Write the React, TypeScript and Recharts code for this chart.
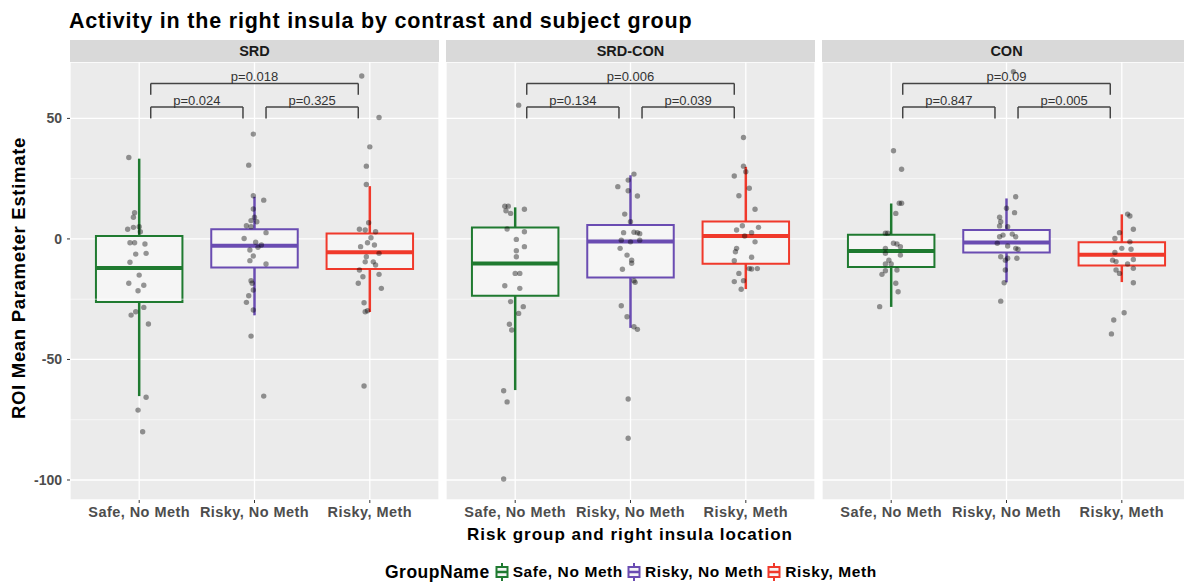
import React from 'react';
import {
  ComposedChart,
  XAxis,
  YAxis,
  CartesianGrid,
  ReferenceArea,
  ReferenceLine,
  ReferenceDot,
  Scatter,
} from 'recharts';

// ---------- data ----------
const panelNames = ['SRD', 'SRD-CON', 'CON'];
const groupNames = ['Safe, No Meth', 'Risky, No Meth', 'Risky, Meth'];
const yTicks = [-100, -50, 0, 50];
const yMinorTicks = [-75, -25, 25];
const yDomain = [-108.3, 73.4];

// box statistics, [panel][group]
const whiskerLow = [[-65.2, -31.7, -30.3], [-62.7, -36.9, -20.8], [-28.2, -18.0, -17.9]];
const q1 = [[-26.2, -11.8, -12.5], [-23.6, -16.0, -10.3], [-11.6, -5.6, -11.0]];
const median = [[-12.1, -2.8, -5.5], [-10.2, -1.1, 1.2], [-5.0, -1.5, -6.6]];
const q3 = [[1.2, 4.0, 2.3], [4.7, 5.8, 7.2], [1.7, 3.7, -1.4]];
const whiskerHigh = [[33.3, 17.5, 21.9], [13.1, 26.4, 29.9], [14.7, 16.8, 10.2]];

// p-values: [1 vs 2, 2 vs 3, 1 vs 3] per panel
const pValues = [
  ['p=0.024', 'p=0.325', 'p=0.018'],
  ['p=0.134', 'p=0.039', 'p=0.006'],
  ['p=0.847', 'p=0.005', 'p=0.09'],
];
const comparisons = [[1, 2, 0], [2, 3, 0], [1, 3, 1]];
const bracketLevels = [54.7, 64.5];
const bracketTip = 4.7;

// jittered points: [horizontal jitter (category units), value]
const srdSafe = [[-0.09, 33.8], [-0.04, 10.9], [-0.05, 9.0], [-0.1, 4.0], [-0.05, 4.8], [0.0, 5.1], [0.01, 3.0], [-0.08, -1.6], [-0.04, -1.6], [0.05, -2.1], [-0.03, -6.3], [0.06, -6.0], [-0.08, -9.7], [0.0, -15.0], [-0.09, -18.4], [0.04, -19.2], [-0.01, -21.5], [0.04, -28.4], [-0.03, -30.2], [-0.07, -31.6], [0.08, -35.3], [0.06, -65.7], [-0.01, -71.0], [0.03, -80.0]];
const srdRiskyNoMeth = [[-0.01, 43.5], [-0.05, 30.6], [-0.01, 17.9], [0.08, 16.1], [-0.01, 12.4], [0.0, 9.0], [-0.03, 7.6], [0.02, 7.1], [-0.07, 5.5], [-0.03, 5.1], [0.1, 2.6], [-0.09, 0.2], [0.01, -1.4], [0.06, -2.5], [-0.04, -4.6], [0.03, -3.5], [-0.01, -7.1], [-0.04, -9.0], [0.1, -10.4], [-0.03, -17.3], [-0.02, -18.4], [-0.01, -21.2], [-0.05, -23.6], [-0.07, -26.3], [-0.01, -29.5], [-0.03, -40.3], [0.08, -65.2]];
const srdRiskyMeth = [[0.0, 38.2], [-0.03, 30.2], [-0.03, 22.6], [-0.01, 6.7], [-0.09, 4.0], [-0.04, 3.7], [0.05, 3.0], [0.01, 0.5], [-0.02, -1.6], [0.04, -2.5], [-0.08, -3.2], [0.08, -6.0], [-0.03, -7.4], [-0.04, -9.5], [0.03, -9.5], [0.05, -10.8], [-0.09, -12.9], [0.08, -14.7], [-0.06, -15.7], [-0.1, -18.4], [0.1, -20.5], [-0.05, -26.5], [-0.04, -30.2], [-0.02, -29.8], [-0.05, -61.0], [-0.07, 67.6], [0.08, 50.4]];
const diffSafe = [[0.03, 55.5], [-0.09, 13.6], [-0.06, 13.6], [-0.08, 11.7], [-0.04, 10.6], [0.08, 12.3], [-0.07, 4.1], [0.08, 3.0], [0.01, -0.2], [0.08, -3.2], [0.01, -4.9], [0.01, -7.4], [0.0, -14.3], [0.04, -14.3], [-0.09, -19.4], [0.04, -20.5], [-0.04, -26.0], [0.07, -28.1], [0.03, -30.9], [-0.05, -35.4], [-0.03, -37.8], [-0.1, -63.0], [-0.07, -67.6], [-0.1, -99.6]];
const diffRiskyNoMeth = [[0.03, 26.9], [-0.11, 21.7], [-0.02, 24.4], [-0.02, 20.0], [0.06, 17.8], [-0.05, 10.3], [0.0, 7.1], [0.03, 2.8], [0.06, 2.6], [0.08, 2.2], [-0.06, 2.6], [-0.08, -0.5], [0.08, -0.5], [0.0, -1.2], [-0.09, -3.9], [-0.03, -6.7], [0.01, -8.8], [0.01, -10.1], [-0.07, -12.6], [0.04, -18.0], [0.03, -17.3], [-0.08, -27.7], [-0.03, -32.3], [0.03, -36.4], [0.06, -37.5], [-0.02, -66.4], [-0.02, -82.7]];
const diffRiskyMeth = [[-0.02, 42.1], [-0.02, 30.2], [-0.1, 26.1], [0.0, 27.9], [0.03, 21.0], [-0.06, 17.9], [0.08, 12.3], [-0.03, 5.5], [-0.08, 3.7], [0.05, 2.6], [0.11, 4.8], [-0.01, 1.2], [0.08, -1.2], [-0.08, -3.9], [-0.09, -5.3], [0.05, -7.6], [-0.1, -9.0], [0.03, -12.3], [0.05, -12.5], [0.1, -12.3], [-0.06, -14.3], [-0.1, -17.7], [-0.02, -17.3], [-0.04, -20.9]];
const conSafe = [[0.02, 36.6], [0.09, 28.9], [0.07, 14.8], [0.09, 14.8], [0.04, 10.6], [-0.05, 2.4], [-0.03, 2.4], [0.02, -1.8], [0.05, -2.1], [0.08, -3.2], [-0.05, -3.9], [-0.05, -6.0], [0.08, -6.7], [-0.02, -8.8], [-0.05, -10.4], [0.0, -10.4], [0.05, -12.9], [-0.05, -13.2], [-0.08, -14.7], [0.04, -18.4], [0.06, -21.9], [-0.1, -28.1]];
const conRiskyNoMeth = [[0.08, 17.5], [-0.06, 9.0], [0.07, 10.9], [0.0, 12.7], [-0.05, 7.1], [0.01, 5.1], [-0.06, 5.4], [0.05, 2.0], [0.08, 0.9], [-0.06, 0.9], [-0.03, 1.6], [-0.08, -1.8], [0.01, -2.9], [0.08, -3.9], [0.1, -4.3], [-0.05, -7.4], [0.01, -8.0], [-0.01, -8.8], [0.09, -8.0], [-0.01, -12.9], [-0.02, -18.2], [-0.05, -25.8], [0.06, 69.4]];
const conRiskyMeth = [[0.05, 10.3], [0.07, 9.5], [0.1, 4.0], [-0.02, 2.6], [-0.06, 0.2], [0.07, -1.2], [0.0, -3.9], [0.08, -4.3], [-0.06, -5.6], [0.1, -8.5], [-0.08, -8.8], [-0.05, -9.4], [0.05, -10.4], [0.1, -12.2], [-0.05, -12.9], [-0.02, -14.3], [0.1, -18.2], [0.02, -30.6], [-0.07, -33.6], [-0.09, -39.4]];

const panelPoints = [
  [srdSafe, srdRiskyNoMeth, srdRiskyMeth],
  [diffSafe, diffRiskyNoMeth, diffRiskyMeth],
  [conSafe, conRiskyNoMeth, conRiskyMeth],
];

// ---------- style ----------
const groupColors = ['#1F7A30', '#6A4CB2', '#F0392B'];
const FONT = '"Liberation Sans", Arial, Helvetica, sans-serif';
const PANEL_BG = '#EBEBEB';
const BOX_FILL = '#F5F5F5';
const BOX_HALF = 0.375;
const PLOT_TOP = 62;
const PLOT_H = 438;
const XAXIS_H = 24;
const PLOT_W = 369;
const panelLefts = [70, 446, 822];

function Dot(props: any) {
  if (props.cx == null || props.cy == null) return null;
  return <circle cx={props.cx} cy={props.cy} r={2.7} fill="#000" fillOpacity={0.4} />;
}

function Panel({ pi }: { pi: number }) {
  const showY = pi === 0;
  const data: { x: number; y: number }[] = [];
  panelPoints[pi].forEach((pts, gi) => {
    pts.forEach(([dx, v]) => data.push({ x: gi + 1 + dx, y: v }));
  });
  const yAxisW = showY ? 70 : 0;
  return (
    <ComposedChart
      width={PLOT_W + yAxisW}
      height={PLOT_H + XAXIS_H}
      margin={{ top: 0, right: 0, bottom: 0, left: 0 }}
      data={data}
    >
      <CartesianGrid fill={PANEL_BG} stroke="#FFFFFF" strokeWidth={1.3} />
      <XAxis
        type="number"
        dataKey="x"
        domain={[0.4, 3.6]}
        ticks={[1, 2, 3]}
        interval={0}
        allowDataOverflow
        height={XAXIS_H}
        tickFormatter={(v: number) => groupNames[Math.round(v) - 1]}
        tick={{ fontSize: 14.5, fontWeight: 700, fill: '#4D4D4D', fontFamily: FONT, letterSpacing: 0.45 }}
        tickLine={{ stroke: '#333333' }}
        tickSize={3}
        tickMargin={4}
        axisLine={false}
      />
      <YAxis
        type="number"
        dataKey="y"
        domain={yDomain}
        ticks={yTicks}
        allowDataOverflow
        hide={!showY}
        width={yAxisW}
        tick={{ fontSize: 14, fontWeight: 700, fill: '#4D4D4D', fontFamily: FONT }}
        tickLine={{ stroke: '#333333' }}
        tickSize={3}
        tickMargin={5}
        axisLine={false}
      />
      {yMinorTicks.map((t) => (
        <ReferenceLine key={'m' + t} y={t} stroke="#FFFFFF" strokeWidth={0.6} />
      ))}
      {groupNames.map((g, gi) => (
        <ReferenceArea
          key={'box' + gi}
          x1={gi + 1 - BOX_HALF}
          x2={gi + 1 + BOX_HALF}
          y1={q1[pi][gi]}
          y2={q3[pi][gi]}
          fill={BOX_FILL}
          fillOpacity={1}
          stroke={groupColors[gi]}
          strokeWidth={2}
          strokeOpacity={1}
        />
      ))}
      {groupNames.map((g, gi) => (
        <ReferenceLine
          key={'wh' + gi}
          segment={[{ x: gi + 1, y: q3[pi][gi] }, { x: gi + 1, y: whiskerHigh[pi][gi] }]}
          stroke={groupColors[gi]}
          strokeWidth={2.5}
        />
      ))}
      {groupNames.map((g, gi) => (
        <ReferenceLine
          key={'wl' + gi}
          segment={[{ x: gi + 1, y: q1[pi][gi] }, { x: gi + 1, y: whiskerLow[pi][gi] }]}
          stroke={groupColors[gi]}
          strokeWidth={2.5}
        />
      ))}
      {groupNames.map((g, gi) => (
        <ReferenceLine
          key={'md' + gi}
          segment={[{ x: gi + 1 - BOX_HALF, y: median[pi][gi] }, { x: gi + 1 + BOX_HALF, y: median[pi][gi] }]}
          stroke={groupColors[gi]}
          strokeWidth={4}
        />
      ))}
      <Scatter dataKey="y" isAnimationActive={false} shape={<Dot />} />
      {comparisons.map(([a, b, lvl], ci) => {
        const xa = a + 0.1;
        const xb = b - 0.1;
        const yl = bracketLevels[lvl];
        return (
          <React.Fragment key={'br' + ci}>
            <ReferenceLine segment={[{ x: xa, y: yl }, { x: xb, y: yl }]} stroke="#444444" strokeWidth={1.5} />
            <ReferenceLine segment={[{ x: xa, y: yl }, { x: xa, y: yl - bracketTip }]} stroke="#444444" strokeWidth={1.5} />
            <ReferenceLine segment={[{ x: xb, y: yl }, { x: xb, y: yl - bracketTip }]} stroke="#444444" strokeWidth={1.5} />
            <ReferenceDot
              x={(xa + xb) / 2}
              y={yl}
              r={0}
              ifOverflow="visible"
              shape={(p: any) => (
                <text
                  x={p.cx}
                  y={p.cy - 2}
                  textAnchor="middle"
                  fontSize={13}
                  fontFamily={FONT}
                  fill="#333333"
                >
                  {pValues[pi][ci]}
                </text>
              )}
            />
          </React.Fragment>
        );
      })}
    </ComposedChart>
  );
}

function LegendKey({ color }: { color: string }) {
  return (
    <svg width={14} height={18} style={{ display: 'block' }}>
      <line x1={7} y1={0} x2={7} y2={4} stroke={color} strokeWidth={2} />
      <line x1={7} y1={14} x2={7} y2={18} stroke={color} strokeWidth={2} />
      <rect x={1.5} y={4} width={11} height={10} fill={BOX_FILL} stroke={color} strokeWidth={2} />
      <line x1={1.5} y1={9} x2={12.5} y2={9} stroke={color} strokeWidth={2.5} />
    </svg>
  );
}

export default function App() {
  return (
    <div
      style={{
        position: 'absolute',
        left: 0,
        top: 0,
        width: 1184,
        height: 582,
        overflow: 'hidden',
        background: '#FFFFFF',
        fontFamily: FONT,
      }}
    >
      {panelNames.map((name, pi) => (
        <div
          key={'strip' + pi}
          style={{
            position: 'absolute',
            left: panelLefts[pi],
            top: 40,
            width: PLOT_W,
            height: 22,
            background: '#D9D9D9',
            color: '#1A1A1A',
            fontWeight: 700,
            fontSize: 14.5,
            lineHeight: '22px',
            textAlign: 'center',
          }}
        >
          {name}
        </div>
      ))}
      {panelNames.map((name, pi) => (
        <div
          key={'panel' + pi}
          style={{ position: 'absolute', left: panelLefts[pi] - (pi === 0 ? 70 : 0), top: PLOT_TOP }}
        >
          <Panel pi={pi} />
        </div>
      ))}
      <svg width={1184} height={582} style={{ position: 'absolute', left: 0, top: 0, pointerEvents: 'none' }}>
        <text x={69} y={28} fontSize={21.5} fontWeight={700} fill="#000" fontFamily={FONT} letterSpacing={0.8}>
          Activity in the right insula by contrast and subject group
        </text>
        <text
          x={25}
          y={278}
          fontSize={18.5}
          fontWeight={700}
          fill="#000"
          fontFamily={FONT}
          letterSpacing={0.7}
          textAnchor="middle"
          transform="rotate(-90, 25, 278)"
        >
          ROI Mean Parameter Estimate
        </text>
        <text
          x={630}
          y={540}
          fontSize={17}
          fontWeight={700}
          fill="#000"
          fontFamily={FONT}
          letterSpacing={1.0}
          textAnchor="middle"
        >
          Risk group and right insula location
        </text>
      </svg>
      <div
        style={{
          position: 'absolute',
          left: 385,
          top: 561,
          height: 22,
          display: 'flex',
          alignItems: 'center',
          fontWeight: 700,
          whiteSpace: 'nowrap',
        }}
      >
        <span style={{ fontSize: 17.5, marginRight: 5, letterSpacing: 0.5 }}>GroupName</span>
        {groupNames.map((g, gi) => (
          <React.Fragment key={'lg' + gi}>
            <LegendKey color={groupColors[gi]} />
            <span style={{ fontSize: 15.5, marginLeft: 4, marginRight: 4, letterSpacing: 0.6 }}>{g}</span>
          </React.Fragment>
        ))}
      </div>
    </div>
  );
}
